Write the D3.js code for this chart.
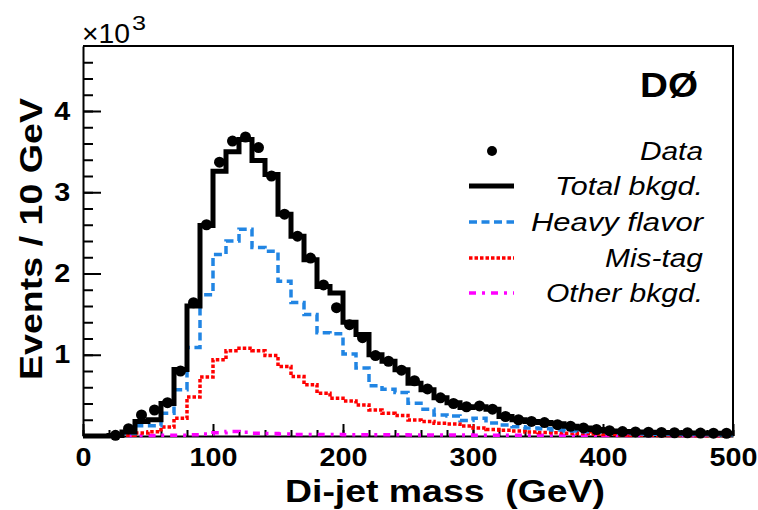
<!DOCTYPE html>
<html lang="en">
<head>
<meta charset="utf-8">
<script src="https://cdn.jsdelivr.net/npm/d3@7"></script>
<style>
  body { margin: 0; background: #fff; }
  text { font-family: "Liberation Sans", Arial, sans-serif; }
</style>
</head>
<body>
<svg></svg>
<script>
// low edges of the 10 GeV bins, 0..490
const binLow = d3.range(0, 500, 10);

// events per bin
const dataPts = [0, 0, 8, 90, 260, 320, 410, 800, 1640, 2600,
  3370, 3630, 3680, 3550, 3200, 2730, 2460, 2190, 1860, 1580,
  1370, 1210, 990, 920, 810, 680, 580, 470, 400, 360,
  370, 330, 240, 200, 180, 165, 140, 120, 100, 80,
  65, 55, 50, 46, 44, 40, 40, 36, 35, 34];
const totalBkgd = [0, 0, 5, 50, 180, 200, 400, 820, 1600, 2590,
  3260, 3500, 3650, 3390, 3220, 2730, 2460, 2170, 1840, 1760,
  1400, 1250, 1000, 920, 815, 650, 570, 470, 410, 350,
  360, 330, 240, 200, 180, 165, 150, 120, 100, 80,
  62, 55, 50, 46, 44, 40, 38, 36, 35, 34];
const heavyFlavor = [0, 0, 3, 30, 125, 125, 280, 570, 1090, 1740,
  2235, 2400, 2545, 2320, 2275, 1905, 1642, 1494, 1271, 1260,
  1010, 837, 617, 576, 535, 403, 330, 260, 247, 190,
  220, 160, 136, 115, 100, 90, 75, 62, 52, 45,
  36, 30, 27, 24, 22, 20, 18, 17, 16, 15];
const misTag = [0, 0, 0, 10, 37, 53, 110, 220, 480, 725,
  938, 1050, 1080, 1050, 990, 856, 733, 630, 527, 465,
  430, 383, 321, 280, 251, 197, 177, 156, 148, 123,
  100, 80, 70, 62, 50, 42, 40, 35, 32, 25,
  18, 12, 10, 8, 6, 5, 5, 4, 4, 3];
const otherBkgd = [0, 0, 0, 5, 5, 5, 10, 10, 15, 25,
  40, 55, 45, 35, 30, 25, 20, 20, 20, 20,
  15, 15, 15, 15, 15, 12, 12, 12, 12, 12,
  10, 10, 10, 10, 10, 10, 10, 10, 10, 10,
  6, 6, 6, 6, 6, 6, 6, 6, 6, 6];

const xMajor = [0, 100, 200, 300, 400, 500];
const yMajor = [1000, 2000, 3000, 4000];

const legendNames = ["Data", "Total bkgd.", "Heavy flavor", "Mis-tag", "Other bkgd."];

const width = 758, height = 510;
const mLeft = 83, mRight = 733, mTop = 46, mBottom = 436;

const svg = d3.select("svg")
    .attr("width", width)
    .attr("height", height)
    .style("background", "#fff");

const x = d3.scaleLinear().domain([0, 500]).range([mLeft, mRight]);
const y = d3.scaleLinear().domain([0, 4800]).range([mBottom, mTop]);

// frame top and right (no ticks there)
svg.append("path")
    .attr("d", `M${mLeft},${mTop}H${mRight}V${mBottom}`)
    .attr("fill", "none")
    .attr("stroke", "#000")
    .attr("stroke-width", 2);

// x axis: minor ticks every 20, major every 100, all pointing inwards
svg.append("g")
    .attr("transform", `translate(0,${mBottom})`)
    .call(d3.axisBottom(x).tickValues(d3.range(0, 501, 20)).tickSize(-6).tickFormat(""))
    .call(g => g.select(".domain").remove());
svg.append("g")
    .attr("transform", `translate(0,${mBottom})`)
    .call(d3.axisBottom(x).tickValues(xMajor).tickSizeInner(-12).tickSizeOuter(0).tickPadding(12))
    .call(g => g.select(".domain").attr("stroke-width", 2));

// y axis: minor every 200, major every 1000
svg.append("g")
    .attr("transform", `translate(${mLeft},0)`)
    .call(d3.axisLeft(y).tickValues(d3.range(200, 4700, 200)).tickSize(-10).tickFormat(""))
    .call(g => g.select(".domain").remove());
svg.append("g")
    .attr("transform", `translate(${mLeft},0)`)
    .call(d3.axisLeft(y).tickValues(yMajor).tickSizeInner(-18).tickSizeOuter(0)
        .tickPadding(11).tickFormat(d => d / 1000))
    .call(g => g.select(".domain").attr("stroke-width", 2));

svg.selectAll(".tick line").attr("stroke-width", 2);
svg.selectAll(".tick text")
    .attr("font-family", "Liberation Sans, Arial, sans-serif")
    .attr("font-size", 25)
    .attr("font-weight", "bold")
    .attr("fill", "#000")
    .attr("transform", "scale(1.15,1)");

// histograms
const step = vals => d3.line()
    .x(d => x(d[0]))
    .y(d => y(d[1]))
    .curve(d3.curveStepAfter)(binLow.map((b, i) => [b, vals[i]]).concat([[500, vals[vals.length - 1]]]));

const series = [
  { vals: otherBkgd, color: "#ff00ff", w: 3.5, dash: "7,6,3,6" },
  { vals: misTag, color: "#ff0000", w: 3.5, dash: "3.5,2" },
  { vals: heavyFlavor, color: "#2185e3", w: 3.5, dash: "8,4.5" },
  { vals: totalBkgd, color: "#000", w: 5, dash: null }
];

series.forEach(s => {
  svg.append("path")
      .attr("d", step(s.vals))
      .attr("fill", "none")
      .attr("stroke", s.color)
      .attr("stroke-width", s.w)
      .attr("stroke-dasharray", s.dash);
});

// data points
svg.append("g")
    .selectAll("circle")
    .data(binLow.map((b, i) => [b + 5, dataPts[i]]).filter(d => d[1] > 0))
    .join("circle")
    .attr("cx", d => x(d[0]))
    .attr("cy", d => y(d[1]))
    .attr("r", 5.5)
    .attr("fill", "#000");

// axis titles
svg.append("text")
    .attr("x", 285).attr("y", 502)
    .attr("font-size", 32).attr("font-weight", "bold")
    .attr("textLength", 320).attr("lengthAdjust", "spacingAndGlyphs")
    .style("white-space", "pre")
    .text("Di-jet mass  (GeV)");

svg.append("text")
    .attr("transform", "translate(42,239) rotate(-90)")
    .attr("text-anchor", "middle")
    .attr("font-size", 31).attr("font-weight", "bold")
    .attr("textLength", 282).attr("lengthAdjust", "spacingAndGlyphs")
    .text("Events / 10 GeV");

// x10^3 multiplier
svg.append("text")
    .attr("x", 82).attr("y", 43)
    .attr("font-size", 28)
    .attr("textLength", 48).attr("lengthAdjust", "spacingAndGlyphs")
    .text("\u00d710");
svg.append("text")
    .attr("x", 132).attr("y", 30)
    .attr("font-size", 20)
    .attr("textLength", 14).attr("lengthAdjust", "spacingAndGlyphs")
    .text("3");

// experiment tag
svg.append("text")
    .attr("x", 698).attr("y", 97)
    .attr("text-anchor", "end")
    .attr("font-size", 35).attr("font-weight", "bold")
    .attr("textLength", 58).attr("lengthAdjust", "spacingAndGlyphs")
    .text("D\u00d8");

// legend
const legY = [151, 186, 222, 258, 293];
const legW = [63, 148, 172, 98, 157];
const leg = svg.append("g");
legendNames.forEach((name, i) => {
  leg.append("text")
      .attr("x", 703).attr("y", legY[i] + 9)
      .attr("text-anchor", "end")
      .attr("font-size", 25).attr("font-style", "italic")
      .attr("textLength", legW[i]).attr("lengthAdjust", "spacingAndGlyphs")
      .text(name);
  if (i === 0) {
    leg.append("circle").attr("cx", 492).attr("cy", legY[i]).attr("r", 5).attr("fill", "#000");
  } else {
    const s = series[4 - i];
    leg.append("line")
        .attr("x1", 469).attr("x2", 514)
        .attr("y1", legY[i]).attr("y2", legY[i])
        .attr("stroke", s.color)
        .attr("stroke-width", s.w)
        .attr("stroke-dasharray", s.dash);
  }
});
</script>
</body>
</html>
